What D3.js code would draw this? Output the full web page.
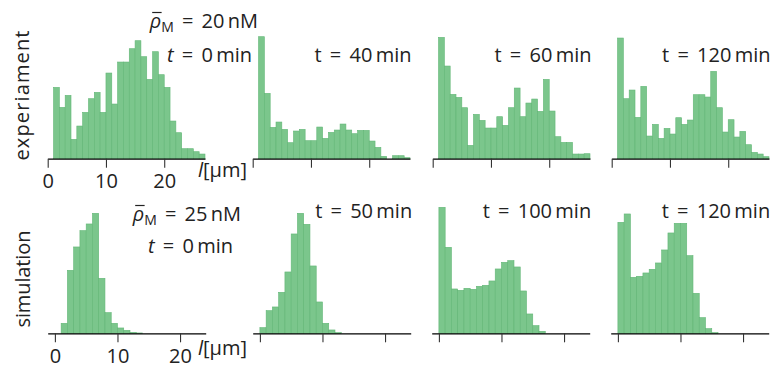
<!DOCTYPE html>
<html>
<head>
<meta charset="utf-8">
<script src="https://cdn.jsdelivr.net/npm/d3@7"></script>
<style>
  body { margin: 0; background: #fff; }
  text { font-family: "Open Sans", "Liberation Sans", Arial, sans-serif; fill: #222; }
</style>
</head>
<body>
<script>
// histogram heights (arbitrary units), bin width 1 µm
var expTimes = ["0", "40", "60", "120"];
var simTimes = ["0", "50", "100", "120"];
var expBinStart = [1, 1, 1, 1];
var simBinStart = [1, 0, 0, 0];

var exp0 = [214, 154, 190, 58, 98, 139, 180, 199, 139, 257, 164, 290, 290, 330, 354, 306, 238, 321, 252, 214, 113, 78, 30, 30, 21, 14];
var exp40 = [366, 196, 94, 110, 88, 48, 83, 88, 54, 54, 95, 61, 79, 86, 104, 86, 75, 85, 85, 53, 34, 7, 0, 9, 9, 3];
var exp60 = [364, 278, 193, 184, 153, 40, 133, 115, 92, 92, 126, 100, 153, 212, 126, 167, 179, 142, 238, 143, 66, 49, 49, 14, 14, 15];
var exp120 = [362, 180, 206, 124, 217, 68, 103, 61, 91, 74, 123, 103, 116, 192, 192, 185, 262, 153, 80, 117, 65, 82, 42, 19, 14, 6];

var sim0 = [30, 189, 259, 308, 328, 360, 165, 62, 30, 16, 9, 3, 1];
var sim50 = [17, 68, 79, 123, 184, 298, 360, 327, 202, 94, 30, 10, 2];
var sim100 = [378, 258, 133, 129, 135, 132, 141, 144, 157, 193, 213, 218, 199, 127, 58, 23, 6];
var sim120 = [333, 358, 168, 171, 181, 192, 211, 250, 301, 330, 330, 233, 120, 47, 14, 2];

var tickValues = [0, 10, 20];
var rowLabels = ["experiament", "simulation"];
var rhoLabels = ["20", "25"];

var width = 771, height = 368;

var svg = d3.select("body").append("svg")
  .attr("width", width)
  .attr("height", height);

// layout of the two rows
var rows = [
  { data: [exp0, exp40, exp60, exp120], start: expBinStart, times: expTimes,
    left: [47.7, 252.7, 432.7, 611.7], w: 157.3, domain: [0, 27],
    base: 158.7, ymax: 366, tY: 62 },
  { data: [sim0, sim50, sim100, sim120], start: simBinStart, times: simTimes,
    left: [47.7, 252.7, 431.7, 610.7], w: 158, domain: [-1.15, 24.1],
    base: 333.3, ymax: 378, tY: 218 }
];

rows.forEach(function (row, r) {
  var y = d3.scaleLinear().domain([0, row.ymax]).range([row.base, row.base - row.ymax / 3]);

  row.data.forEach(function (vals, p) {
    var x = d3.scaleLinear().domain(row.domain).range([row.left[p], row.left[p] + row.w]);
    var g = svg.append("g");

    var bins = vals.map(function (v, i) {
      return { x0: row.start[p] + i, x1: row.start[p] + i + 1, v: v };
    });

    g.selectAll("rect").data(bins).enter().append("rect")
      .attr("x", function (d) { return x(d.x0); })
      .attr("width", function (d) { return x(d.x1) - x(d.x0); })
      .attr("y", function (d) { return y(d.v); })
      .attr("height", function (d) { return row.base - y(d.v); })
      .attr("fill", "#7bc68c")
      .attr("stroke", "#62b676")
      .attr("stroke-width", 0.6);

    // x axis
    var axis = d3.axisBottom(x).tickValues(tickValues).tickSize(9).tickSizeOuter(0);
    if (p > 0) axis.tickFormat("");
    var ax = g.append("g")
      .attr("transform", "translate(0," + row.base + ")")
      .call(axis);
    ax.select(".domain").attr("stroke", "#000").attr("stroke-width", 1.3);
    ax.selectAll(".tick line").attr("stroke", "#333").attr("stroke-width", 1.1);
    ax.selectAll(".tick text")
      .attr("font-size", 20)
      .attr("dy", 0)
      .attr("y", r == 0 ? 29 : 29.5)
      .attr("fill", "#222");

    // time label
    var tx, ty;
    if (p == 0) {
      tx = r == 0 ? 252 : 233;
      ty = r == 0 ? 62 : 253;
    } else {
      tx = row.left[p] + row.w + 1.5;
      ty = row.tY;
    }
    var t = g.append("text")
      .attr("x", tx).attr("y", ty)
      .attr("text-anchor", "end")
      .attr("font-size", 20)
      .attr("word-spacing", 3);
    t.append("tspan").attr("font-style", p == 0 ? "italic" : "normal").text("t");
    t.append("tspan").text(" = " + row.times[p] + "\u2009min");
  });

  // rho label, macron drawn as a short line over the rho
  var rho = svg.append("text")
    .attr("x", r == 0 ? 258 : 241)
    .attr("y", r == 0 ? 28 : 221)
    .attr("text-anchor", "end")
    .attr("font-size", 20)
    .attr("word-spacing", 3);
  rho.append("tspan").attr("font-style", "italic").text("\u03c1");
  rho.append("tspan").attr("font-size", 14).attr("dy", 4).text("M");
  rho.append("tspan").attr("dy", -4).text(" = " + rhoLabels[r] + "\u2009nM");
  var ext = rho.node().getExtentOfChar(0);
  svg.append("line")
    .attr("x1", ext.x + 2.5).attr("x2", ext.x + ext.width + 0.5)
    .attr("y1", (r == 0 ? 28 : 221) - 15.5).attr("y2", (r == 0 ? 28 : 221) - 15.5)
    .attr("stroke", "#222").attr("stroke-width", 1.2);

  // length label
  var ll = svg.append("text")
    .attr("x", 198)
    .attr("y", r == 0 ? 177 : 355)
    .attr("font-size", 20);
  ll.append("tspan").attr("font-style", "italic").text("l");
  ll.append("tspan").text("[\u00b5m]");

  // row label
  svg.append("text")
    .attr("transform", "translate(" + (r == 0 ? 29 : 30) + "," + (r == 0 ? 95.5 : 279) + ") rotate(-90)")
    .attr("text-anchor", "middle")
    .attr("font-size", 20)
    .attr("textLength", r == 0 ? 130 : 97)
    .attr("lengthAdjust", "spacing")
    .text(rowLabels[r]);
});
</script>
</body>
</html>
